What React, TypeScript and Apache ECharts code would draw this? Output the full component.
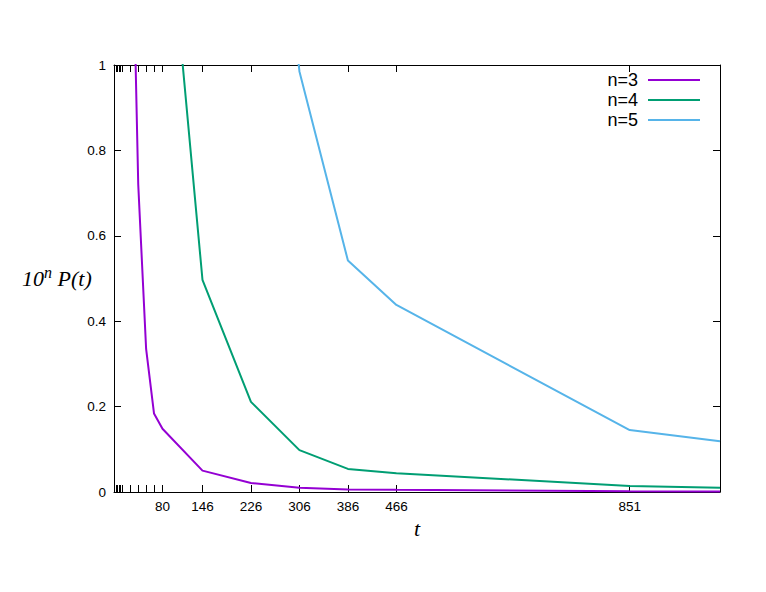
import React, { useEffect, useRef } from "react";
import * as echarts from "echarts";

const tValues = [26, 40, 53, 66, 80, 146, 226, 306, 386, 466, 851, 1000];
const n3Values = [1.63, 0.72, 0.335, 0.184, 0.148, 0.05, 0.021, 0.01, 0.006, 0.005, 0.002, 0.001];
const n4Values = [null, null, null, null, 1.515, 0.497, 0.211, 0.098, 0.054, 0.044, 0.014, 0.01];
const n5Values = [null, null, null, null, null, null, 2.0, 0.985, 0.542, 0.438, 0.145, 0.119];
const xTickValues = [3, 5, 8, 11, 14, 26, 40, 53, 66, 80, 146, 226, 306, 386, 466, 851];
const xTickLabels = [80, 146, 226, 306, 386, 466, 851];
const yTicks = [0, 0.2, 0.4, 0.6, 0.8, 1];
const seriesNames = ["n=3", "n=4", "n=5"];
const seriesValues = [n3Values, n4Values, n5Values];
const colors = ["#9400d3", "#009e73", "#56b4e9"];

const SANS = "Liberation Sans, Arial, sans-serif";
const SERIF = "Liberation Serif, Times New Roman, serif";

export default function App() {
  const ref = useRef<HTMLDivElement>(null);
  useEffect(() => {
    if (!ref.current) return;
    const chart = echarts.init(ref.current, null, { renderer: "svg" });
    const axisLine = { show: true, onZero: false, lineStyle: { color: "#000", width: 1 } };
    const xTick = { show: true, inside: true, length: 7, customValues: xTickValues, lineStyle: { color: "#000" } };
    const yTick = { show: true, inside: true, length: 7, customValues: yTicks, lineStyle: { color: "#000" } };
    const series = seriesNames.map((name, i) => ({
      name,
      type: "line",
      showSymbol: false,
      symbol: "none",
      clip: true,
      lineStyle: { color: colors[i], width: 2 },
      itemStyle: { color: colors[i] },
      data: tValues
        .map((t, j) => [t, seriesValues[i][j]])
        .filter((p) => p[1] !== null),
    }));
    chart.setOption({
      animation: false,
      grid: { left: 114, right: 46, top: 65, bottom: 100 },
      legend: {
        data: seriesNames,
        orient: "vertical",
        align: "right",
        right: 66,
        top: 70,
        padding: 0,
        icon: "rect",
        itemWidth: 52,
        itemHeight: 2,
        itemGap: 0,
        textStyle: { fontSize: 18, fontFamily: SANS, color: "#000", lineHeight: 20, padding: [0, 5, 0, 0] },
      },
      xAxis: [
        {
          type: "value",
          min: 0,
          max: 1000,
          position: "bottom",
          axisLine,
          axisTick: xTick,
          splitLine: { show: false },
          axisLabel: { customValues: xTickLabels, fontSize: 13.5, fontFamily: SANS, color: "#000", margin: 7 },
          name: "t",
          nameLocation: "middle",
          nameGap: 25,
          nameTextStyle: { fontSize: 22, fontFamily: SERIF, fontStyle: "italic", color: "#000" },
        },
        {
          type: "value",
          min: 0,
          max: 1000,
          position: "top",
          axisLine,
          axisTick: xTick,
          splitLine: { show: false },
          axisLabel: { show: false },
        },
      ],
      yAxis: [
        {
          type: "value",
          min: 0,
          max: 1,
          interval: 0.2,
          position: "left",
          axisLine,
          axisTick: yTick,
          splitLine: { show: false },
          axisLabel: { customValues: yTicks, fontSize: 13.5, fontFamily: SANS, color: "#000", margin: 8 },
        },
        {
          type: "value",
          min: 0,
          max: 1,
          interval: 0.2,
          position: "right",
          axisLine,
          axisTick: yTick,
          splitLine: { show: false },
          axisLabel: { show: false },
        },
      ],
      graphic: [
        {
          type: "text",
          left: 22,
          top: 264,
          style: {
            text: "{a|10}{s|n}{a| P(t)}",
            fill: "#000",
            rich: {
              a: { fontSize: 22, fontFamily: SERIF, fontStyle: "italic", fill: "#000", lineHeight: 28 },
              s: { fontSize: 16, fontFamily: SERIF, fontStyle: "italic", fill: "#000", verticalAlign: "top", lineHeight: 16 },
            },
          },
        },
      ],
      series,
    });
    return () => chart.dispose();
  }, []);
  return <div ref={ref} style={{ position: "absolute", left: 0, top: 0, width: 766, height: 592 }} />;
}
